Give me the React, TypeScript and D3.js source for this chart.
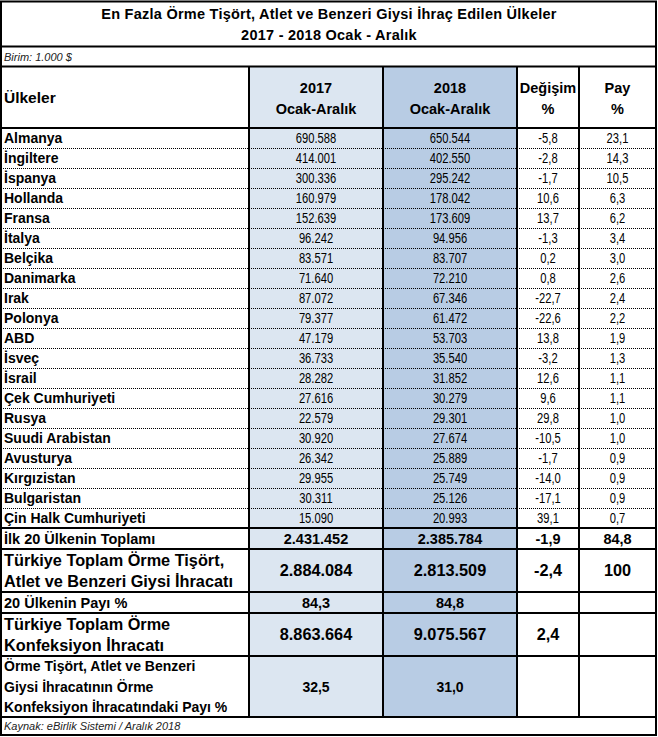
import React from "react";
import * as d3 from "d3";

const title1 = "En Fazla Örme Tişört, Atlet ve Benzeri Giysi İhraç Edilen Ülkeler";
const title2 = "2017 - 2018 Ocak - Aralık";
const unitNote = "Birim: 1.000 $";
const sourceNote = "Kaynak: eBirlik Sistemi / Aralık 2018";

const countries = [
  "Almanya", "İngiltere", "İspanya", "Hollanda", "Fransa", "İtalya", "Belçika", "Danimarka",
  "Irak", "Polonya", "ABD", "İsveç", "İsrail", "Çek Cumhuriyeti", "Rusya", "Suudi Arabistan",
  "Avusturya", "Kırgızistan", "Bulgaristan", "Çin Halk Cumhuriyeti",
];
const values2017 = [
  "690.588", "414.001", "300.336", "160.979", "152.639", "96.242", "83.571", "71.640",
  "87.072", "79.377", "47.179", "36.733", "28.282", "27.616", "22.579", "30.920",
  "26.342", "29.955", "30.311", "15.090",
];
const values2018 = [
  "650.544", "402.550", "295.242", "178.042", "173.609", "94.956", "83.707", "72.210",
  "67.346", "61.472", "53.703", "35.540", "31.852", "30.279", "29.301", "27.674",
  "25.889", "25.749", "25.126", "20.993",
];
const changes = [
  "-5,8", "-2,8", "-1,7", "10,6", "13,7", "-1,3", "0,2", "0,8", "-22,7", "-22,6",
  "13,8", "-3,2", "12,6", "9,6", "29,8", "-10,5", "-1,7", "-14,0", "-17,1", "39,1",
];
const shares = [
  "23,1", "14,3", "10,5", "6,3", "6,2", "3,4", "3,0", "2,6", "2,4", "2,2",
  "1,9", "1,3", "1,1", "1,1", "1,0", "1,0", "0,9", "0,9", "0,9", "0,7",
];

const headers = [["2017", "Ocak-Aralık"], ["2018", "Ocak-Aralık"], ["Değişim", "%"], ["Pay", "%"]];

const summaryLabels = [
  ["İlk 20 Ülkenin Toplamı"],
  ["Türkiye Toplam Örme Tişört,", "Atlet ve Benzeri Giysi İhracatı"],
  ["20 Ülkenin Payı %"],
  ["Türkiye Toplam Örme", "Konfeksiyon İhracatı"],
  ["Örme Tişört, Atlet ve Benzeri", "Giysi İhracatının Örme", "Konfeksiyon İhracatındaki Payı %"],
];
const summary2017 = ["2.431.452", "2.884.084", "84,3", "8.863.664", "32,5"];
const summary2018 = ["2.385.784", "2.813.509", "84,8", "9.075.567", "31,0"];
const summaryChange = ["-1,9", "-2,4", "", "2,4", ""];
const summaryShare = ["84,8", "100", "", "", ""];

const FONT = "'Liberation Sans', Arial, sans-serif";
const colX = [1, 249, 383, 517, 579, 656];
const summaryY = [528, 549, 592, 613, 656, 717];
const summaryFont = [14.5, 16.3, 14.5, 16.3, 14];
const C2017 = "#dce6f1";
const C2018 = "#b8cce4";

export default function App() {
  const yRow = d3.scaleBand<number>().domain(d3.range(countries.length)).range([128, 528]);
  const mid = (i: number) => (colX[i] + colX[i + 1]) / 2;

  const narrow = (x: number, y: number, t: string, key: string) => (
    <text key={key} transform={`translate(${x},${y}) scale(0.8,1)`} textAnchor="middle">{t}</text>
  );

  const lines: React.ReactNode[] = [];
  for (let i = 1; i < countries.length; i++) {
    const y = yRow(i)! + 0.5;
    lines.push(
      <line key={"d" + i} x1={colX[0]} x2={colX[5]} y1={y} y2={y} stroke="#000" strokeWidth={1} strokeDasharray="1,1" />
    );
  }
  const solidH = [1.5, 46.5, 66.5, 128, 528, ...summaryY.slice(1), 735];
  solidH.forEach((y, i) =>
    lines.push(<line key={"h" + i} x1={colX[0] - 1} x2={colX[5] + 1} y1={y} y2={y} stroke="#000" strokeWidth={2} />)
  );
  lines.push(<line key="vL" x1={colX[0]} x2={colX[0]} y1={1} y2={735} stroke="#000" strokeWidth={2} />);
  lines.push(<line key="vR" x1={colX[5]} x2={colX[5]} y1={1} y2={735} stroke="#000" strokeWidth={2} />);
  [1, 2, 3, 4].forEach((c) =>
    lines.push(<line key={"v" + c} x1={colX[c]} x2={colX[c]} y1={66.5} y2={717} stroke="#000" strokeWidth={2} />)
  );

  return (
    <svg width={658} height={737} style={{ position: "absolute", left: 0, top: 0, background: "#fff" }} fontFamily={FONT}>
      <rect x={0} y={0} width={658} height={737} fill="#fff" />
      <rect x={colX[1]} y={66.5} width={colX[2] - colX[1]} height={717 - 66.5} fill={C2017} />
      <rect x={colX[2]} y={66.5} width={colX[3] - colX[2]} height={717 - 66.5} fill={C2018} />

      <text x={329} y={19} textAnchor="middle" fontSize={14.5} letterSpacing={0.25} fontWeight="bold">{title1}</text>
      <text x={329} y={39.5} textAnchor="middle" fontSize={14.5} letterSpacing={0.25} fontWeight="bold">{title2}</text>
      <text x={4} y={61} fontSize={11} fontStyle="italic" fill="#222">{unitNote}</text>

      <text x={4} y={103} fontSize={15.5} fontWeight="bold">Ülkeler</text>
      {headers.map((h, i) => (
        <g key={"hd" + i} fontSize={14.5} fontWeight="bold">
          <text x={mid(i + 1)} y={93} textAnchor="middle">{h[0]}</text>
          <text x={mid(i + 1)} y={114} textAnchor="middle">{h[1]}</text>
        </g>
      ))}

      {countries.map((c, i) => {
        const y = yRow(i)! + yRow.bandwidth() / 2 + 5;
        return (
          <g key={"r" + i} fontSize={14} fill="#000">
            <text x={4} y={y} fontWeight="bold" fontSize={14}>{c}</text>
            {narrow(mid(1), y, values2017[i], "a")}
            {narrow(mid(2), y, values2018[i], "b")}
            {narrow(mid(3), y, changes[i], "c")}
            {narrow(mid(4), y, shares[i], "d")}
          </g>
        );
      })}

      {summaryLabels.map((lab, i) => {
        const y0 = summaryY[i];
        const y1 = summaryY[i + 1];
        const fs = summaryFont[i];
        const lh = fs > 16 ? 21 : 20.5;
        const cy = (y0 + y1) / 2;
        const startY = cy - ((lab.length - 1) * lh) / 2 + fs * 0.36;
        const vy = cy + fs * 0.36;
        return (
          <g key={"s" + i} fontWeight="bold" fontSize={fs}>
            {lab.map((t, j) => (
              <text key={j} x={4} y={startY + j * lh}>{t}</text>
            ))}
            <text x={mid(1)} y={vy} textAnchor="middle">{summary2017[i]}</text>
            <text x={mid(2)} y={vy} textAnchor="middle">{summary2018[i]}</text>
            <text x={mid(3)} y={vy} textAnchor="middle">{summaryChange[i]}</text>
            <text x={mid(4)} y={vy} textAnchor="middle">{summaryShare[i]}</text>
          </g>
        );
      })}

      <text x={4} y={730} fontSize={11} fontStyle="italic" fill="#222">{sourceNote}</text>
      {lines}
    </svg>
  );
}
